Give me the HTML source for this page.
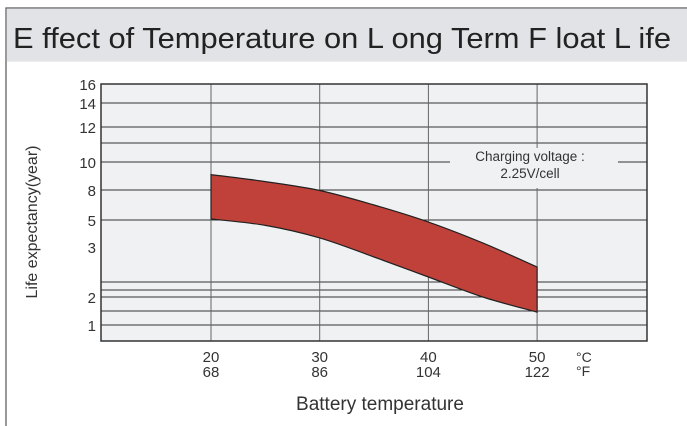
<!DOCTYPE html>
<html><head><meta charset="utf-8"><style>
body{margin:0;background:#fff;}
svg{display:block;font-family:"Liberation Sans",sans-serif;font-variant-ligatures:none;}
</style></head><body>
<svg width="687" height="426">
<rect x="6" y="8" width="690" height="430" fill="#fff" stroke="#555" stroke-width="1.2"/>
<rect x="6.6" y="8.6" width="681" height="53" fill="#e1e3e6"/>
<text x="13" y="48" font-size="29" fill="#222" textLength="658" lengthAdjust="spacingAndGlyphs" style="font-variant-ligatures:none">E ffect of Temperature on L ong Term F loat L ife</text>
<rect x="101" y="84" width="546" height="257" fill="#eff1f3"/>
<g id="grid"></g>
<g id="band"></g>
<rect x="101" y="84" width="546" height="257" fill="none" stroke="#333" stroke-width="1.5"/>
<rect x="450" y="148" width="168" height="40" fill="#eff1f3"/>
<text x="530" y="161" font-size="13.5" fill="#333" text-anchor="middle">Charging voltage :</text>
<text x="530" y="178" font-size="13.5" fill="#333" text-anchor="middle">2.25V/cell</text>
<g id="labels"></g>
<text x="576" y="362" font-size="14" fill="#333">°C</text>
<text x="576" y="376" font-size="14" fill="#333">°F</text>
<text x="380" y="410" font-size="19" fill="#333" text-anchor="middle">Battery temperature</text>
<text transform="translate(37,222) rotate(-90)" font-size="16" fill="#333" text-anchor="middle">Life expectancy(year)</text>
</svg>
<script>
const yTickValues=[1,2,3,5,8,10,12,14,16];
const yTickPx=[325,297,247,220,190,162,127,103,84];
const extraGridPx=[143,282,290,311];
const xTicksC=[20,30,40,50];
const xTicksF=[68,86,104,122];
const temps=[20,25,30,35,40,45,50];
const upperLife=[9.1,8.6,7.95,6.5,4.85,3.3,2.6];
const lowerLife=[5.1,4.6,3.67,2.8,2.4,2.0,1.46];
const NS="http://www.w3.org/2000/svg";
function x(t){return 211+(t-20)*108.7/10;}
function y(v){
  for(let i=0;i<yTickValues.length-1;i++){
    if(v<=yTickValues[i+1]){const a=yTickValues[i],b=yTickValues[i+1];return yTickPx[i]+(v-a)/(b-a)*(yTickPx[i+1]-yTickPx[i]);}
  }
  return yTickPx[yTickPx.length-1];
}
function mk(tag,attrs,parent){const e=document.createElementNS(NS,tag);for(const k in attrs)e.setAttribute(k,attrs[k]);parent.appendChild(e);return e;}
const grid=document.getElementById('grid'),labels=document.getElementById('labels'),band=document.getElementById('band');
yTickValues.forEach((v,i)=>{
  if(v!==3&&v!==16){
    const l=mk('line',{x1:101,x2:647,y1:y(v),y2:y(v),stroke:'#333','stroke-width':1},grid);
    
    
  }
  const t=mk('text',{x:96,y:y(v)+6,'font-size':15,fill:'#333','text-anchor':'end'},labels);
  t.textContent=v;
  
  
});
extraGridPx.forEach(p=>{
  const l=mk('line',{x1:101,x2:647,y1:p,y2:p,stroke:'#333','stroke-width':1},grid);
  
  
});
xTicksC.forEach((c,i)=>{
  const l=mk('line',{x1:x(c),x2:x(c),y1:84,y2:341,stroke:'#666','stroke-width':1},grid);
  
  
  const t=mk('text',{x:x(c),y:362,'font-size':15,fill:'#333','text-anchor':'middle'},labels);
  t.textContent=c;
  
  
  const f=mk('text',{x:x(c),y:377,'font-size':15,fill:'#333','text-anchor':'middle'},labels);
  f.textContent=xTicksF[i];
  
  
});
function curve(pts){
  let d='';
  for(let i=0;i<pts.length-1;i++){
    const p0=pts[Math.max(i-1,0)],p1=pts[i],p2=pts[i+1],p3=pts[Math.min(i+2,pts.length-1)];
    const c1=[p1[0]+(p2[0]-p0[0])/6,p1[1]+(p2[1]-p0[1])/6],c2=[p2[0]-(p3[0]-p1[0])/6,p2[1]-(p3[1]-p1[1])/6];
    d+=` C${c1[0]},${c1[1]} ${c2[0]},${c2[1]} ${p2[0]},${p2[1]}`;
  }
  return d;
}
const up=temps.map((t,i)=>[x(t),y(upperLife[i])]);
const lo=temps.map((t,i)=>[x(t),y(lowerLife[i])]).reverse();
const d=`M${up[0][0]},${up[0][1]}`+curve(up)+` L${lo[0][0]},${lo[0][1]}`+curve(lo)+'Z';
const p=mk('path',{d:d,fill:'#c0403a',stroke:'#222','stroke-width':1.2},band);


</script>
</body></html>
